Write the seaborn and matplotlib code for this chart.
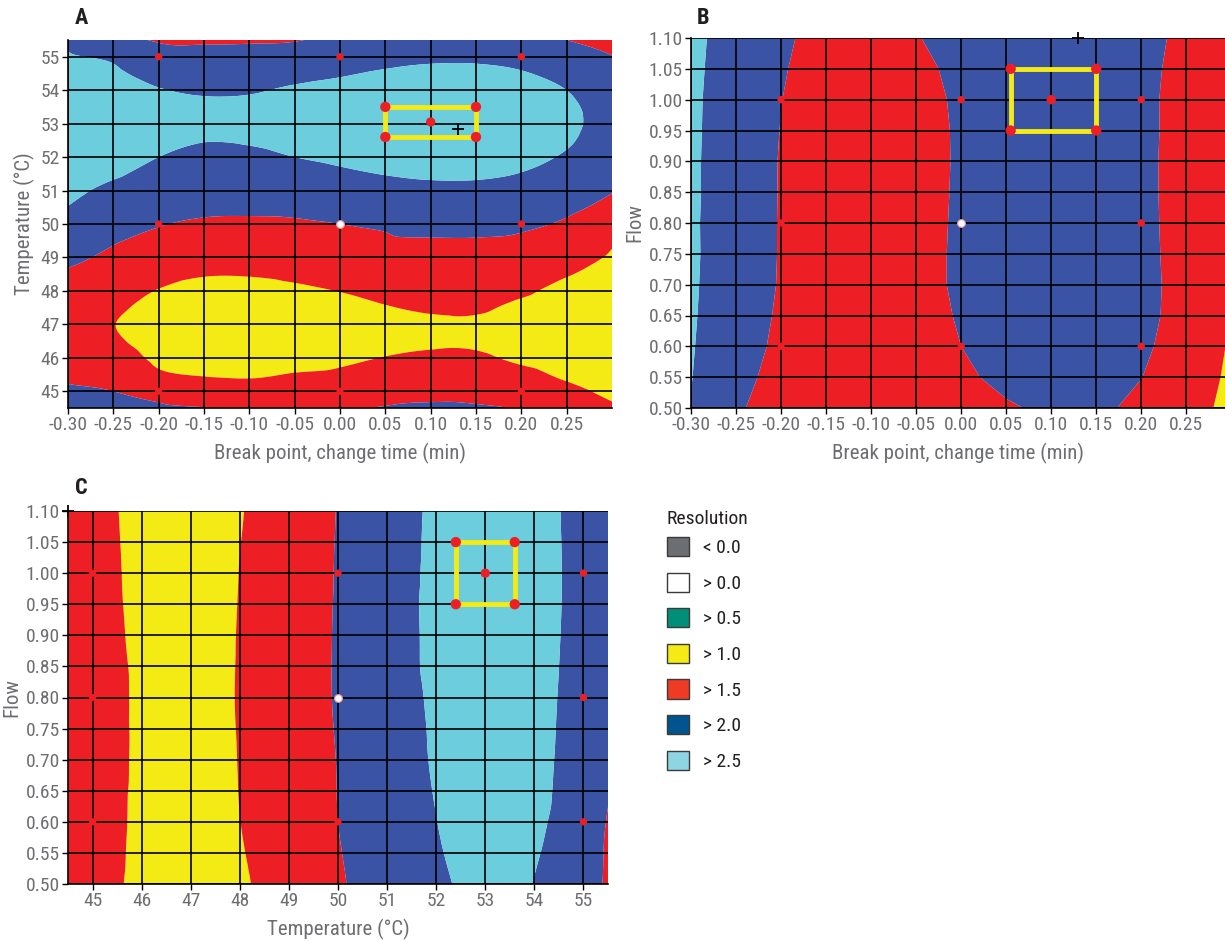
import numpy as np
import matplotlib.pyplot as plt
import matplotlib.tri as mtri
import seaborn as sns
from matplotlib.patches import Patch

# ---------------- data ----------------
break_point = [-0.30, -0.25, -0.20, -0.15, -0.10, -0.05, 0.00, 0.05, 0.10, 0.15, 0.20, 0.25, 0.30]
temp_a = [44.5, 45.0, 45.5, 46.0, 46.5, 47.0, 47.5, 48.0, 48.5, 49.0, 49.5, 50.0,
          50.5, 51.0, 51.5, 52.0, 52.5, 53.0, 53.5, 54.0, 54.5, 55.0, 55.5]

# panel A: one list per break point, values along temp_a
res_a_by_break = [
    [2.15, 2.05, 1.93, 1.80, 1.70, 1.65, 1.70, 1.80, 1.95, 2.08, 2.22, 2.36, 2.49, 2.60, 2.70, 2.76, 2.80, 2.80, 2.78, 2.72, 2.64, 2.54, 2.42],
    [2.10, 2.00, 1.85, 1.70, 1.56, 1.51, 1.58, 1.70, 1.82, 1.93, 2.03, 2.15, 2.28, 2.40, 2.55, 2.66, 2.72, 2.74, 2.70, 2.64, 2.56, 2.44, 2.15],
    [2.05, 1.88, 1.56, 1.42, 1.33, 1.30, 1.35, 1.48, 1.65, 1.80, 1.92, 2.02, 2.14, 2.27, 2.39, 2.50, 2.58, 2.62, 2.60, 2.52, 2.36, 2.18, 1.96],
    [2.01, 1.78, 1.47, 1.30, 1.22, 1.20, 1.23, 1.33, 1.53, 1.70, 1.84, 1.95, 2.08, 2.20, 2.30, 2.40, 2.51, 2.56, 2.55, 2.46, 2.30, 2.13, 1.95],
    [1.95, 1.72, 1.44, 1.28, 1.20, 1.18, 1.21, 1.32, 1.53, 1.70, 1.83, 1.94, 2.07, 2.20, 2.31, 2.42, 2.53, 2.58, 2.56, 2.47, 2.32, 2.14, 1.96],
    [1.90, 1.70, 1.52, 1.36, 1.27, 1.25, 1.30, 1.41, 1.60, 1.74, 1.85, 1.95, 2.10, 2.25, 2.38, 2.50, 2.60, 2.65, 2.63, 2.55, 2.38, 2.18, 1.98],
    [1.97, 1.78, 1.56, 1.44, 1.36, 1.34, 1.38, 1.51, 1.70, 1.82, 1.91, 2.00, 2.17, 2.32, 2.45, 2.56, 2.66, 2.71, 2.70, 2.62, 2.46, 2.28, 2.10],
    [2.02, 1.86, 1.68, 1.51, 1.43, 1.41, 1.48, 1.62, 1.78, 1.88, 1.97, 2.04, 2.24, 2.38, 2.51, 2.62, 2.72, 2.77, 2.76, 2.70, 2.55, 2.35, 2.15],
    [2.04, 1.92, 1.76, 1.56, 1.46, 1.44, 1.55, 1.70, 1.82, 1.90, 1.98, 2.10, 2.26, 2.41, 2.55, 2.67, 2.76, 2.80, 2.79, 2.73, 2.60, 2.42, 2.22],
    [2.03, 1.90, 1.74, 1.56, 1.45, 1.44, 1.56, 1.70, 1.82, 1.90, 1.98, 2.10, 2.26, 2.41, 2.55, 2.67, 2.76, 2.80, 2.79, 2.73, 2.60, 2.42, 2.20],
    [1.97, 1.82, 1.62, 1.42, 1.33, 1.32, 1.40, 1.58, 1.74, 1.86, 1.95, 2.06, 2.22, 2.37, 2.49, 2.59, 2.66, 2.69, 2.68, 2.63, 2.53, 2.34, 2.12],
    [1.75, 1.62, 1.42, 1.28, 1.20, 1.18, 1.22, 1.35, 1.53, 1.70, 1.84, 1.95, 2.08, 2.22, 2.35, 2.46, 2.54, 2.58, 2.57, 2.50, 2.36, 2.18, 2.00],
    [1.56, 1.40, 1.25, 1.12, 1.05, 1.03, 1.08, 1.20, 1.34, 1.45, 1.55, 1.75, 1.90, 2.02, 2.14, 2.24, 2.30, 2.33, 2.30, 2.22, 2.11, 2.01, 1.90],
]

# panel B: one list per flow, values along break_point
flow_b = [0.50, 0.55, 0.60, 0.65, 0.70, 0.75, 0.80, 0.85, 0.90, 0.95, 1.00, 1.05, 1.10]
res_b_by_flow = [
    [2.49, 2.05, 1.82, 1.70, 1.72, 1.78, 1.84, 1.94, 2.10, 2.06, 1.93, 1.65, 1.40],
    [2.51, 2.22, 1.76, 1.72, 1.74, 1.80, 1.90, 2.14, 2.20, 2.15, 2.005, 1.82, 1.40],
    [2.52, 2.30, 1.86, 1.77, 1.75, 1.82, 2.00, 2.17, 2.24, 2.18, 2.035, 1.91, 1.44],
    [2.53, 2.32, 1.92, 1.80, 1.76, 1.83, 2.04, 2.20, 2.26, 2.20, 2.045, 1.94, 1.68],
    [2.54, 2.32, 1.96, 1.82, 1.76, 1.83, 2.08, 2.22, 2.27, 2.21, 2.05, 1.94, 1.72],
    [2.55, 2.31, 1.97, 1.82, 1.76, 1.83, 2.08, 2.22, 2.28, 2.22, 2.055, 1.925, 1.75],
    [2.55, 2.30, 1.97, 1.82, 1.76, 1.83, 2.07, 2.22, 2.28, 2.22, 2.06, 1.91, 1.75],
    [2.56, 2.29, 1.975, 1.82, 1.75, 1.83, 2.06, 2.21, 2.28, 2.22, 2.065, 1.895, 1.75],
    [2.56, 2.29, 1.975, 1.82, 1.75, 1.84, 2.05, 2.21, 2.28, 2.22, 2.07, 1.885, 1.75],
    [2.57, 2.28, 1.99, 1.82, 1.75, 1.85, 2.05, 2.21, 2.28, 2.22, 2.075, 1.89, 1.76],
    [2.58, 2.27, 2.005, 1.83, 1.75, 1.87, 2.06, 2.22, 2.28, 2.23, 2.08, 1.88, 1.76],
    [2.60, 2.27, 2.03, 1.84, 1.75, 1.90, 2.10, 2.24, 2.29, 2.24, 2.09, 1.895, 1.78],
    [2.62, 2.28, 2.08, 1.83, 1.76, 1.98, 2.15, 2.25, 2.30, 2.25, 2.10, 1.925, 1.80],
]

# panel C: one list per flow, values along temp_a
flow_c = [0.5, 0.6, 0.7, 0.8, 0.9, 1.0, 1.1]
res_c_by_flow = [
    [1.97, 1.80, 1.57, 1.32, 1.26, 1.24, 1.28, 1.41, 1.61, 1.75, 1.85, 1.95, 2.10, 2.22, 2.33, 2.43, 2.53, 2.57, 2.56, 2.49, 2.34, 2.14, 1.96],
    [1.96, 1.80, 1.59, 1.39, 1.32, 1.29, 1.34, 1.495, 1.70, 1.81, 1.90, 2.00, 2.12, 2.25, 2.37, 2.495, 2.60, 2.64, 2.62, 2.55, 2.44, 2.22, 1.98],
    [1.95, 1.80, 1.60, 1.41, 1.33, 1.30, 1.36, 1.52, 1.72, 1.83, 1.92, 2.01, 2.15, 2.29, 2.41, 2.54, 2.64, 2.69, 2.68, 2.60, 2.47, 2.27, 2.06],
    [1.95, 1.80, 1.60, 1.41, 1.33, 1.30, 1.36, 1.54, 1.72, 1.83, 1.92, 2.03, 2.17, 2.32, 2.44, 2.56, 2.66, 2.71, 2.70, 2.62, 2.49, 2.30, 2.12],
    [1.93, 1.78, 1.56, 1.40, 1.31, 1.29, 1.35, 1.53, 1.72, 1.83, 1.92, 2.03, 2.18, 2.33, 2.45, 2.60, 2.68, 2.73, 2.72, 2.65, 2.51, 2.34, 2.16],
    [1.92, 1.76, 1.53, 1.41, 1.31, 1.28, 1.33, 1.51, 1.71, 1.83, 1.93, 2.02, 2.18, 2.33, 2.45, 2.59, 2.69, 2.74, 2.73, 2.66, 2.52, 2.33, 2.16],
    [1.90, 1.72, 1.51, 1.39, 1.29, 1.26, 1.30, 1.46, 1.71, 1.83, 1.92, 2.01, 2.16, 2.31, 2.44, 2.57, 2.67, 2.72, 2.71, 2.64, 2.51, 2.34, 2.17],
]

# design points (red) and centre point (white)
design_break = [-0.2, 0.0, 0.2, -0.2, 0.2, -0.2, 0.0, 0.2]
design_temp = [55, 55, 55, 50, 50, 45, 45, 45]
design_flow = [1.0, 1.0, 1.0, 0.8, 0.8, 0.6, 0.6, 0.6]
design_temp_c = [45, 50, 55, 45, 55, 45, 50, 55]
centre = {"break": 0.0, "temp": 50.0, "flow": 0.8}

# robust regions (yellow boxes) and set points
box_a = {"x": (0.05, 0.15), "y": (52.6, 53.5), "set": (0.10, 53.05)}
box_b = {"x": (0.055, 0.15), "y": (0.95, 1.05), "set": (0.10, 1.00)}
box_c = {"x": (52.4, 53.6), "y": (0.95, 1.05), "set": (53.0, 1.00)}
cursor = {"A": (0.13, 52.85), "B": (0.13, 1.10), "C": (44.5, 1.10)}

levels = [1.0, 1.5, 2.0, 2.5, 3.5]
fill_colors = ["#f5eb14", "#ed1f24", "#3a53a4", "#6ccddc"]

legend_labels = ["< 0.0", "> 0.0", "> 0.5", "> 1.0", "> 1.5", "> 2.0", "> 2.5"]
legend_colors = ["#6d6e71", "#ffffff", "#009079", "#f5ea14", "#ef3b24", "#00558f", "#8dd5e2"]

# ---------------- style ----------------
sns.set_theme(style="white")
plt.rcParams["font.family"] = ["Roboto Condensed", "Sofia Sans Condensed", "Roboto", "DejaVu Sans"]
GRAY = "#6d6e71"
INK = "#231f20"
RED = "#ed1f24"
YELLOW = "#f5eb14"

fig = plt.figure(figsize=(12.25, 9.41), dpi=100)
W, H = 1225, 941


def add_axes(left, top, right, bottom):
    return fig.add_axes([left / W, 1 - bottom / H, (right - left) / W, (bottom - top) / H])


def fill_surface(ax, xs, ys, z, smooth=True):
    if not smooth:
        ax.contourf(xs, ys, z, levels=levels, colors=fill_colors, antialiased=True)
        return
    # triangulate in grid-step units so both axes weigh the same, then refine with a cubic
    dx, dy = xs[1] - xs[0], ys[1] - ys[0]
    gx, gy = np.meshgrid(np.asarray(xs) / dx, np.asarray(ys) / dy)
    tri = mtri.Triangulation(gx.ravel(), gy.ravel())
    zr = np.asarray(z).ravel()
    interp = mtri.CubicTriInterpolator(tri, zr, kind="geom")
    fine, zf = mtri.UniformTriRefiner(tri).refine_field(zr, triinterpolator=interp, subdiv=3)
    fine_data = mtri.Triangulation(fine.x * dx, fine.y * dy, fine.triangles)
    ax.tricontourf(fine_data, zf, levels=levels, colors=fill_colors, antialiased=True)


def draw_panel(ax, xs, ys, z, xlim, ylim, xticks, yticks, xfmt, yfmt, smooth=True):
    fill_surface(ax, xs, ys, z, smooth)
    ax.set_xlim(*xlim)
    ax.set_ylim(*ylim)
    ax.set_xticks(xticks)
    ax.set_yticks(yticks)
    ax.set_xticklabels([xfmt.format(t) for t in xticks])
    ax.set_yticklabels([yfmt.format(t) for t in yticks])
    ax.set_axisbelow(False)
    ax.grid(True, color="black", linewidth=1.2)
    ax.tick_params(axis="both", direction="out", length=4, width=1, color="black",
                   labelcolor=GRAY, labelsize=14, pad=2, bottom=True, left=True)
    for side in ["top", "right"]:
        ax.spines[side].set_visible(False)
    for side in ["left", "bottom"]:
        ax.spines[side].set_color("black")
        ax.spines[side].set_linewidth(1.2)


def draw_points(ax, px, py, cx, cy, box, cur):
    sns.scatterplot(x=px, y=py, ax=ax, color=RED, s=28, edgecolor="none", zorder=5, legend=False)
    sns.scatterplot(x=[cx], y=[cy], ax=ax, color="white", s=30, edgecolor="#f4a0a0",
                    linewidth=0.8, zorder=5, legend=False)
    (x0, x1), (y0, y1) = box["x"], box["y"]
    ax.plot([x0, x1, x1, x0, x0], [y0, y0, y1, y1, y0], color=YELLOW, linewidth=3.5,
            solid_joinstyle="miter", zorder=6)
    sns.scatterplot(x=[x0, x1, x1, x0], y=[y0, y0, y1, y1], ax=ax, color=RED, s=55,
                    edgecolor="none", zorder=7, legend=False)
    sns.scatterplot(x=[box["set"][0]], y=[box["set"][1]], ax=ax, color=RED, s=45,
                    edgecolor="none", zorder=7, legend=False)
    ax.plot([cur[0]], [cur[1]], marker="+", markersize=9, color="black",
            markeredgewidth=1.3, zorder=8, clip_on=False)


xticks_bp = [-0.30, -0.25, -0.20, -0.15, -0.10, -0.05, 0.00, 0.05, 0.10, 0.15, 0.20, 0.25]
flow_ticks = [0.50, 0.55, 0.60, 0.65, 0.70, 0.75, 0.80, 0.85, 0.90, 0.95, 1.00, 1.05, 1.10]
label_kw = dict(color=GRAY, fontsize=15)

# Panel A
ax_a = add_axes(68, 40, 612, 408)
draw_panel(ax_a, break_point, temp_a, np.array(res_a_by_break).T, (-0.30, 0.30), (44.5, 55.5),
           xticks_bp, list(range(45, 56)), "{:.2f}", "{:d}")
draw_points(ax_a, design_break, design_temp, centre["break"], centre["temp"], box_a, cursor["A"])
ax_a.set_xlabel("Break point, change time (min)", labelpad=6, **label_kw)
ax_a.set_ylabel("Temperature (°C)", labelpad=4, **label_kw)

# Panel B
ax_b = add_axes(691, 38, 1225, 408)
draw_panel(ax_b, break_point, flow_b, np.array(res_b_by_flow), (-0.30, 0.293), (0.50, 1.10),
           xticks_bp, flow_ticks, "{:.2f}", "{:.2f}", smooth=False)
draw_points(ax_b, design_break, design_flow, centre["break"], centre["flow"], box_b, cursor["B"])
ax_b.set_xlabel("Break point, change time (min)", labelpad=6, **label_kw)
ax_b.set_ylabel("Flow", labelpad=3, **label_kw)

# Panel C
ax_c = add_axes(68, 511, 608, 884)
draw_panel(ax_c, temp_a, flow_c, np.array(res_c_by_flow), (44.5, 55.5), (0.50, 1.10),
           list(range(45, 56)), flow_ticks, "{:d}", "{:.2f}")
draw_points(ax_c, design_temp_c, design_flow, centre["temp"], centre["flow"], box_c, cursor["C"])
ax_c.set_xlabel("Temperature (°C)", labelpad=6, **label_kw)
ax_c.set_ylabel("Flow", labelpad=3, **label_kw)

# panel letters
for letter, (px, py) in {"A": (75, 18), "B": (697, 18), "C": (75, 488)}.items():
    fig.text(px / W, 1 - py / H, letter, fontsize=16, fontweight="bold", color=INK,
             va="center", ha="left")

# legend
fig.text(667 / W, 1 - 519 / H, "Resolution", fontsize=14, color=INK, va="center", ha="left")
handles = [Patch(facecolor=c, edgecolor="#3a3a3a", linewidth=1.0) for c in legend_colors]
leg = fig.legend(handles, legend_labels, loc="upper left", bbox_to_anchor=(667 / W, 1 - 537 / H),
                 frameon=False, fontsize=14, handlelength=1.15, handleheight=1.15,
                 labelspacing=0.79, handletextpad=0.7, borderaxespad=0, borderpad=0)
for t in leg.get_texts():
    t.set_color(INK)

fig.savefig("out.png", dpi=100)
